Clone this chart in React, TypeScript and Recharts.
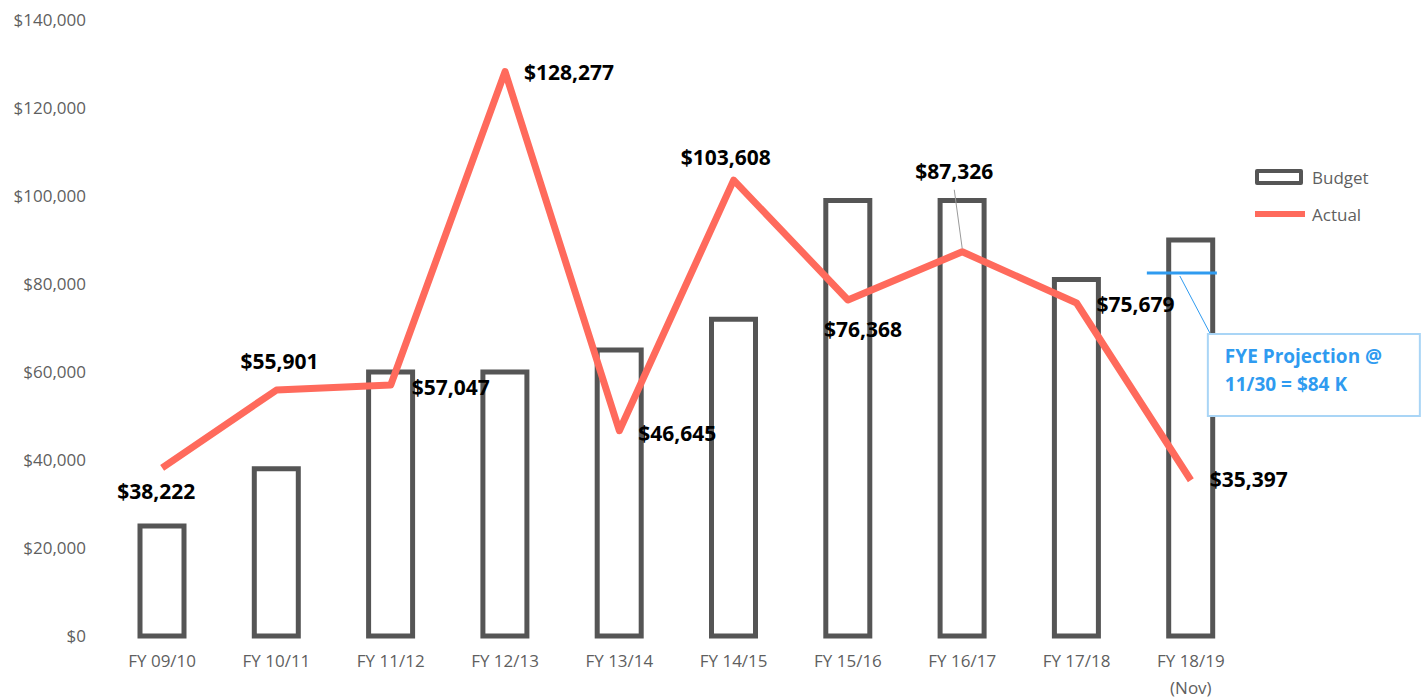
import { ComposedChart, Bar, Line, XAxis, YAxis, LabelList } from 'recharts';

const categories = [
  'FY 09/10',
  'FY 10/11',
  'FY 11/12',
  'FY 12/13',
  'FY 13/14',
  'FY 14/15',
  'FY 15/16',
  'FY 16/17',
  'FY 17/18',
  'FY 18/19\n(Nov)',
];
const budget = [25000, 38000, 60000, 60000, 65000, 72000, 99000, 99000, 81000, 90000];
const actual = [38222, 55901, 57047, 128277, 46645, 103608, 76368, 87326, 75679, 35397];
const projection = [null, null, null, null, null, null, null, null, null, 82500];
const yTicks = [0, 20000, 40000, 60000, 80000, 100000, 120000, 140000];

const data = categories.map((name, i) => ({
  name,
  budget: budget[i],
  actual: actual[i],
  projection: projection[i],
}));

// where each data label sits relative to its point
const labelPlace: { dx: number; dy: number; anchor: 'start' | 'middle' }[] = [
  { dx: -6, dy: 24, anchor: 'middle' },
  { dx: 3, dy: -28, anchor: 'middle' },
  { dx: 21, dy: 3, anchor: 'start' },
  { dx: 19, dy: 1, anchor: 'start' },
  { dx: 19, dy: 3, anchor: 'start' },
  { dx: -8, dy: -22, anchor: 'middle' },
  { dx: 15, dy: 30, anchor: 'middle' },
  { dx: -8, dy: -80, anchor: 'middle' },
  { dx: 20, dy: 2, anchor: 'start' },
  { dx: 19, dy: -1, anchor: 'start' },
];

const FONT = '"Open Sans", "Liberation Sans", sans-serif';
const GRAY = '#5f5f5f';
const BLUE = '#2f9bf0';

const fmt = (v: number) => `$${v.toLocaleString('en-US')}`;

const renderActualLabel = (props: any) => {
  const { x, y, value, index } = props;
  const p = labelPlace[index];
  return (
    <g>
      {index === 7 && (
        <line x1={x - 8} y1={y - 62} x2={x} y2={y - 3} stroke="#9a9a9a" strokeWidth={1} />
      )}
      <text
        x={x + p.dx}
        y={y + p.dy}
        dy="0.35em"
        textAnchor={p.anchor}
        fontFamily={FONT}
        fontWeight={700}
        fontSize={21}
        fill="#000"
      >
        {fmt(value)}
      </text>
    </g>
  );
};

const renderProjection = (props: any) => {
  const { cx, cy, value, index } = props;
  if (value == null || cy == null) return <g key={`p-${index}`} />;
  return (
    <g key={`p-${index}`}>
      <line x1={cx - 44} y1={cy} x2={cx + 26} y2={cy} stroke={BLUE} strokeWidth={3} />
      <line x1={cx - 11} y1={cy + 3} x2={cx + 19} y2={cy + 60} stroke={BLUE} strokeWidth={1} />
      <rect
        x={cx + 17}
        y={cy + 61}
        width={212}
        height={82}
        fill="#fff"
        stroke="#a9d5f6"
        strokeWidth={2}
      />
      <text x={cx + 34} y={cy + 90} fontFamily={FONT} fontWeight={700} fontSize={19} fill={BLUE}>
        FYE Projection @
      </text>
      <text x={cx + 34} y={cy + 118} fontFamily={FONT} fontWeight={700} fontSize={19} fill={BLUE}>
        11/30 = $84 K
      </text>
    </g>
  );
};

const renderXTick = (props: any) => {
  const { x, y, payload } = props;
  const lines = String(payload.value).split('\n');
  return (
    <text x={x} y={y} textAnchor="middle" fontFamily={FONT} fontSize={17} fill={GRAY}>
      {lines.map((l, i) => (
        <tspan key={i} x={x} dy={i === 0 ? 31 : 27}>
          {l}
        </tspan>
      ))}
    </text>
  );
};

function ChartLegend() {
  return (
    <div
      style={{
        position: 'absolute',
        left: 1255,
        top: 165,
        fontFamily: FONT,
        fontSize: 17,
        color: GRAY,
      }}
    >
      <div style={{ display: 'flex', alignItems: 'center', height: 24 }}>
        <div
          style={{
            width: 40,
            height: 8,
            border: '4px solid #555',
            borderRadius: 2,
            marginRight: 9,
          }}
        />
        Budget
      </div>
      <div style={{ display: 'flex', alignItems: 'center', height: 24, marginTop: 13 }}>
        <div style={{ width: 50, height: 6, background: '#ff6a5c', marginRight: 7 }} />
        Actual
      </div>
    </div>
  );
}

export default function App() {
  return (
    <div style={{ position: 'absolute', left: 0, top: 0, width: 1426, height: 700, background: '#fff' }}>
      <ComposedChart
        width={1426}
        height={700}
        data={data}
        margin={{ top: 20, right: 178, bottom: 34, left: 0 }}
      >
        <XAxis
          dataKey="name"
          height={30}
          axisLine={false}
          tickLine={false}
          tickSize={0}
          tickMargin={0}
          interval={0}
          tick={renderXTick}
        />
        <YAxis
          width={105}
          domain={[0, 140000]}
          ticks={yTicks}
          axisLine={false}
          tickLine={false}
          tickMargin={13}
          tickFormatter={fmt}
          tick={{ fill: GRAY, fontSize: 17, fontFamily: FONT }}
        />
        <Bar
          dataKey="budget"
          name="Budget"
          barSize={44}
          fill="#fff"
          stroke="#555"
          strokeWidth={5}
          isAnimationActive={false}
        />
        <Line
          dataKey="actual"
          name="Actual"
          type="linear"
          stroke="#ff6a5c"
          strokeWidth={7}
          strokeLinejoin="round"
          dot={false}
          activeDot={false}
          isAnimationActive={false}
        >
          <LabelList dataKey="actual" content={renderActualLabel} />
        </Line>
        <Line
          dataKey="projection"
          name="Projection"
          stroke="none"
          dot={renderProjection}
          activeDot={false}
          legendType="none"
          isAnimationActive={false}
        />
      </ComposedChart>
      <ChartLegend />
    </div>
  );
}
